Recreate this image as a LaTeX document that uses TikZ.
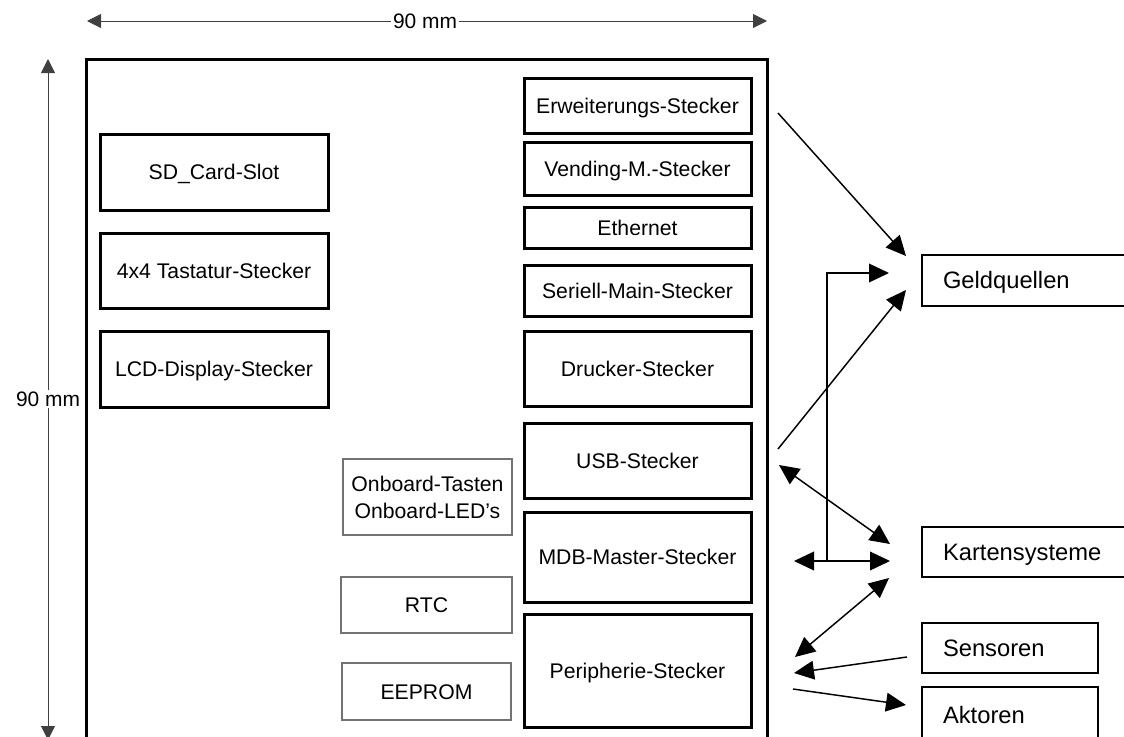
\documentclass[tikz,border=0pt]{standalone}
\usepackage{fontspec}
\setmainfont{Liberation Sans}
\usetikzlibrary{arrows.meta}
\newcommand\mybox[7]{\node[#7, minimum width={(#4-#2)*0.75pt}, minimum height={(#5-#3)*0.75pt}] (#1) at ({(#2+#4)/2},{(#3+#5)/2}) {#6};}
\tikzset{
  thickbox/.style={draw, line width=2.25pt, inner sep=0pt, text height=11.4pt, text depth=0pt, font=\fontsize{15.9}{19}\selectfont},
  thinbox/.style={draw=black!55, line width=0.9pt, inner sep=0pt, align=center, font=\fontsize{15.9}{20.25}\selectfont},
  capcenter/.style={text height=11.4pt, text depth=0pt},
  extbox/.style={draw, line width=1.1pt, inner xsep=15.75pt, inner ysep=0pt, text height=12.7pt, text depth=0pt, align=left, font=\fontsize{17.8}{21}\selectfont},
  conn/.style={line width=1.1pt, -{Triangle[length=15pt,width=14pt]}},
  dconn/.style={line width=1.1pt, {Triangle[length=15pt,width=14pt]}-{Triangle[length=15pt,width=14pt]}},
  dimline/.style={line width=0.75pt, draw=black!75, {Triangle[length=10.5pt,width=10.5pt]}-{Triangle[length=10.5pt,width=10.5pt]}},
  dimlabel/.style={fill=white, inner sep=1.5pt, text height=11.2pt, text depth=0pt, font=\fontsize{15.7}{19}\selectfont}
}
\begin{document}
\begin{tikzpicture}[x=0.75pt,y=-0.75pt]
\useasboundingbox (0,0) rectangle (1124,736);
\clip (0,0) rectangle (1124,736);
% board outline
\draw[line width=2.25pt] (86,770) -- (86,59) -- (767,59) -- (767,770);
% dimension arrows
\coordinate (tl) at (87,21);
\coordinate (tr) at (767,21);
\draw[dimline] (tl) -- (tr);
\node[dimlabel] (dimh) at (425,21) {90 mm};
\coordinate (vt) at (48,59);
\coordinate (vb) at (48,740);
\draw[dimline] (vt) -- (vb);
\node[dimlabel] (dimv) at (48,399) {90 mm};
% right column
\mybox{erw}{524}{78}{751}{133}{Erweiterungs-Stecker}{thickbox}
\mybox{vend}{524}{142}{751}{195}{Vending-M.-Stecker}{thickbox}
\mybox{eth}{524}{207}{751}{248}{Ethernet}{thickbox}
\mybox{ser}{524}{265}{751}{316}{Seriell-Main-Stecker}{thickbox}
\mybox{druck}{524}{331}{751}{406}{Drucker-Stecker}{thickbox}
\mybox{usb}{524}{423}{751}{498}{USB-Stecker}{thickbox}
\mybox{mdb}{524}{512}{751}{602}{MDB-Master-Stecker}{thickbox}
\mybox{peri}{524}{614}{751}{727}{Peripherie-Stecker}{thickbox}
% left column
\mybox{sd}{100}{134}{328}{210}{SD\_Card-Slot}{thickbox}
\mybox{tast}{100}{233}{328}{308}{4x4 Tastatur-Stecker}{thickbox}
\mybox{lcd}{100}{331}{328}{407}{LCD-Display-Stecker}{thickbox}
% thin boxes
\mybox{onb}{343}{459}{512}{535}{Onboard-Tasten\\Onboard-LED’s}{thinbox}
\mybox{rtc}{341}{577}{512}{633}{RTC}{thinbox, capcenter}
\mybox{eep}{342}{663}{511}{720}{EEPROM}{thinbox, capcenter}
% external boxes
\mybox{geld}{922}{255}{1130}{306}{Geldquellen}{extbox, text width=124.5pt}
\mybox{karten}{922}{527}{1130}{577}{Kartensysteme}{extbox, text width=124.5pt}
\mybox{sens}{922}{623}{1098}{673}{Sensoren}{extbox, text width=100.5pt}
\mybox{akt}{922}{687}{1098}{743}{Aktoren}{extbox, text width=100.5pt}
% connector end points
\coordinate (a1s) at (778,113);
\coordinate (a1e) at (906,256);
\coordinate (a3s) at (778,449);
\coordinate (a3e) at (906,290);
\coordinate (elb) at (827,561);
\coordinate (a2e) at (889,273);
\coordinate (hl) at (794,561);
\coordinate (hr) at (890,561);
\coordinate (a4s) at (779,465);
\coordinate (a4e) at (890,544);
\coordinate (a5s) at (795,657);
\coordinate (a5e) at (889,578);
\coordinate (a6s) at (907,657);
\coordinate (a6e) at (794,673);
\coordinate (a7s) at (793,689);
\coordinate (a7e) at (906,705);
% connectors
\draw[conn] (a1s) -- (a1e);
\draw[conn] (a3s) -- (a3e);
\draw[conn] (elb) |- (a2e);
\draw[dconn] (hl) -- (hr);
\draw[dconn] (a4s) -- (a4e);
\draw[dconn] (a5s) -- (a5e);
\draw[conn] (a6s) -- (a6e);
\draw[conn] (a7s) -- (a7e);
\end{tikzpicture}
\end{document}
